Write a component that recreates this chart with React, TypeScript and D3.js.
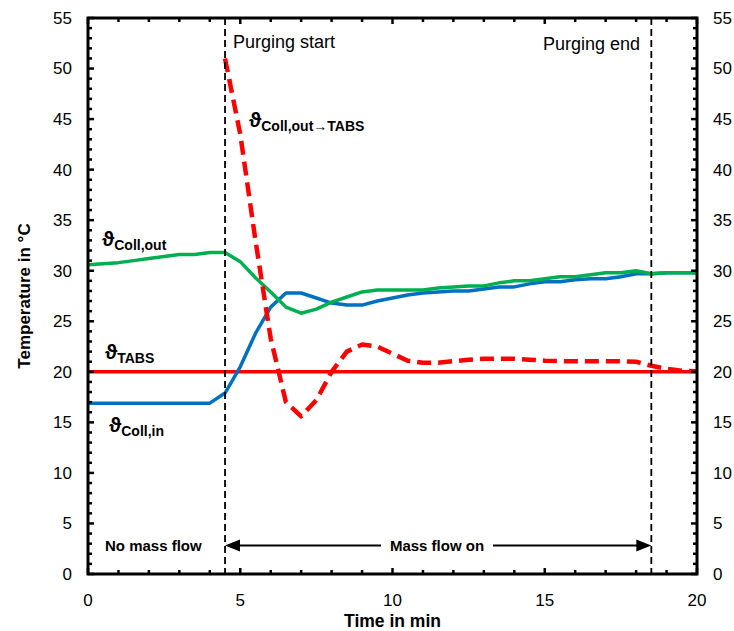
import React from 'react';
import * as d3 from 'd3';

const timeMin = [0, 0.5, 1, 1.5, 2, 2.5, 3, 3.5, 4, 4.5, 5, 5.5, 6, 6.5, 7, 7.5, 8, 8.5, 9, 9.5, 10, 10.5, 11, 11.5, 12, 12.5, 13, 13.5, 14, 14.5, 15, 15.5, 16, 16.5, 17, 17.5, 18, 18.5, 19, 19.5, 20];
const collIn = [16.9, 16.9, 16.9, 16.9, 16.9, 16.9, 16.9, 16.9, 16.9, 17.9, 20.5, 23.8, 26.4, 27.8, 27.8, 27.3, 26.8, 26.6, 26.6, 27.0, 27.3, 27.6, 27.8, 27.9, 28.0, 28.0, 28.2, 28.4, 28.4, 28.7, 28.9, 28.9, 29.1, 29.2, 29.2, 29.4, 29.7, 29.7, 29.8, 29.8, 29.8];
const collOut = [30.6, 30.7, 30.8, 31.0, 31.2, 31.4, 31.6, 31.6, 31.8, 31.8, 30.9, 29.3, 27.9, 26.4, 25.8, 26.2, 26.9, 27.4, 27.9, 28.1, 28.1, 28.1, 28.1, 28.3, 28.4, 28.5, 28.5, 28.8, 29.0, 29.0, 29.2, 29.4, 29.4, 29.6, 29.8, 29.8, 30.0, 29.7, 29.8, 29.8, 29.8];
const collOutToTabs: (number | null)[] = [null, null, null, null, null, null, null, null, null, 51.0, 43.5, 33.0, 23.3, 17.0, 15.6, 17.2, 20.0, 22.0, 22.7, 22.5, 21.8, 21.1, 20.9, 20.9, 21.05, 21.2, 21.3, 21.3, 21.3, 21.2, 21.1, 21.05, 21.05, 21.05, 21.05, 21.05, 21.0, 20.6, 20.3, 20.1, 20.05];
const tabsTime = [0, 20];
const tabsValues = [20, 20];

const xTickValues = [0, 5, 10, 15, 20];
const yTickValues = [0, 5, 10, 15, 20, 25, 30, 35, 40, 45, 50, 55];
const purgingStart = 4.5;
const purgingEnd = 18.5;

const W = 734, H = 631;
const L = 88, R = 697, T = 18, B = 574;
const FONT = "'Liberation Sans', Arial, sans-serif";

export default function App() {
  const x = d3.scaleLinear().domain([0, 20]).range([L, R]);
  const y = d3.scaleLinear().domain([0, 55]).range([B, T]);

  const line = d3.line<[number, number | null]>()
    .defined(d => d[1] !== null)
    .x(d => x(d[0]))
    .y(d => y(d[1] as number));

  const pts = (vals: (number | null)[], ts = timeMin) => ts.map((t, i) => [t, vals[i]] as [number, number | null]);

  const xMinor = d3.range(0, 21, 1);
  const yMinor = d3.range(0, 56, 1);

  const arrowY = 545.5;
  const xs = x(purgingStart), xe = x(purgingEnd);

  const sub = (main: string, s: string, px: number, py: number) => (
    <text x={px} y={py} fontFamily={FONT} fontWeight="bold" fill="#000">
      <tspan fontSize={21}>{main}</tspan>
      <tspan fontSize={14} dy={4}>{s}</tspan>
    </text>
  );

  return (
    <svg width={W} height={H} style={{ position: 'absolute', left: 0, top: 0, background: '#fff' }}>
      <rect x={0} y={0} width={W} height={H} fill="#fff" />
      {/* series */}
      <path d={line(pts(tabsValues, tabsTime)) || ''} fill="none" stroke="#FF0000" strokeWidth={3.5} />
      <path d={line(pts(collIn)) || ''} fill="none" stroke="#0070C0" strokeWidth={3.5} strokeLinejoin="round" />
      <path d={line(pts(collOut)) || ''} fill="none" stroke="#00B050" strokeWidth={3.5} strokeLinejoin="round" />
      <path d={line(pts(collOutToTabs)) || ''} fill="none" stroke="#FF0000" strokeWidth={4.5} strokeDasharray="14,7" strokeLinejoin="round" />

      {/* purging lines */}
      {[purgingStart, purgingEnd].map(t => (
        <line key={t} x1={x(t)} x2={x(t)} y1={T} y2={B} stroke="#000" strokeWidth={1.8} strokeDasharray="7,4" />
      ))}

      {/* ticks */}
      {xMinor.map(v => {
        const len = v % 5 === 0 ? 6 : 4;
        return (
          <g key={'x' + v}>
            <line x1={x(v)} x2={x(v)} y1={B} y2={B - len} stroke="#000" strokeWidth={2.5} />
            <line x1={x(v)} x2={x(v)} y1={T} y2={T + len} stroke="#000" strokeWidth={2.5} />
          </g>
        );
      })}
      {yMinor.map(v => {
        const len = v % 5 === 0 ? 6 : 4;
        return (
          <g key={'y' + v}>
            <line x1={L} x2={L + len} y1={y(v)} y2={y(v)} stroke="#000" strokeWidth={2.5} />
            <line x1={R} x2={R - len} y1={y(v)} y2={y(v)} stroke="#000" strokeWidth={2.5} />
          </g>
        );
      })}
      <rect x={L} y={T} width={R - L} height={B - T} fill="none" stroke="#000" strokeWidth={3} />

      {/* tick labels */}
      {yTickValues.map(v => (
        <g key={'yl' + v}>
          <text x={72} y={y(v)} dy="0.35em" textAnchor="end" fontFamily={FONT} fontSize={17} fill="#000">{v}</text>
          <text x={713} y={y(v)} dy="0.35em" textAnchor="start" fontFamily={FONT} fontSize={17} fill="#000">{v}</text>
        </g>
      ))}
      {xTickValues.map(v => (
        <text key={'xl' + v} x={x(v)} y={606} textAnchor="middle" fontFamily={FONT} fontSize={17} fill="#000">{v}</text>
      ))}

      {/* axis titles */}
      <text x={(L + R) / 2} y={627} textAnchor="middle" fontFamily={FONT} fontWeight="bold" fontSize={17.5} fill="#000">Time in min</text>
      <text transform={`translate(30,${(T + B) / 2}) rotate(-90)`} textAnchor="middle" fontFamily={FONT} fontWeight="bold" fontSize={17} fill="#000">Temperature in °C</text>

      {/* annotations */}
      <text x={233} y={48} fontFamily={FONT} fontSize={18} fill="#000">Purging start</text>
      <text x={640} y={50} textAnchor="end" fontFamily={FONT} fontSize={18} fill="#000">Purging end</text>

      {sub('ϑ', 'Coll,out', 102, 246)}
      {sub('ϑ', 'TABS', 105, 359)}
      {sub('ϑ', 'Coll,in', 109, 432)}
      {sub('ϑ', 'Coll,out→TABS', 249, 127)}

      {/* mass flow arrow */}
      <text x={105} y={arrowY + 5.5} fontFamily={FONT} fontWeight="bold" fontSize={15} fill="#000">No mass flow</text>
      <line x1={xs + 14} x2={381} y1={arrowY} y2={arrowY} stroke="#000" strokeWidth={2} />
      <line x1={493} x2={xe - 14} y1={arrowY} y2={arrowY} stroke="#000" strokeWidth={2} />
      <path d={`M${xs},${arrowY} L${xs + 15},${arrowY - 6} L${xs + 15},${arrowY + 6} Z`} fill="#000" />
      <path d={`M${xe},${arrowY} L${xe - 15},${arrowY - 6} L${xe - 15},${arrowY + 6} Z`} fill="#000" />
      <text x={437} y={arrowY + 5.5} textAnchor="middle" fontFamily={FONT} fontWeight="bold" fontSize={15} fill="#000">Mass flow on</text>
    </svg>
  );
}
